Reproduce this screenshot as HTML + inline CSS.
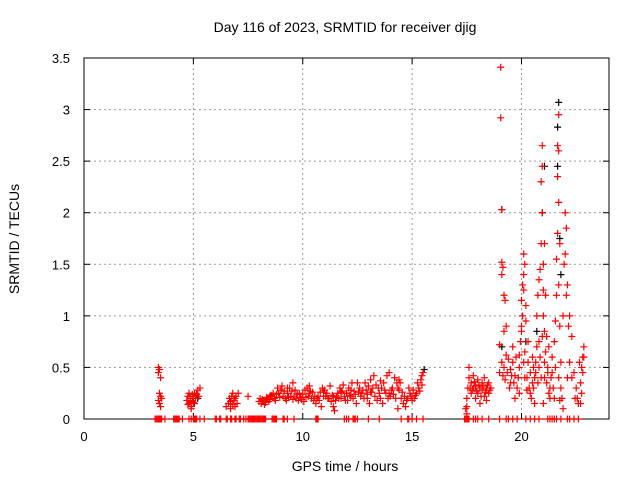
<!DOCTYPE html>
<html><head><meta charset="utf-8"><style>
body{margin:0;background:#fff}
svg{display:block;font-family:"Liberation Sans",sans-serif}
</style></head><body>
<svg id="chart" width="640" height="480">
<rect width="640" height="480" fill="#fff"/>
<text x="345" y="32" font-size="14" text-anchor="middle">Day 116 of 2023, SRMTID for receiver djig</text>
<g id="grid"></g>
<g id="axes"></g>
<g id="zeros"></g>
<g id="black"></g>
<g id="red"></g>
<text x="345" y="471" font-size="14" text-anchor="middle">GPS time / hours</text>
<text transform="translate(19,239) rotate(-90)" font-size="14" text-anchor="middle">SRMTID / TECUs</text>
</svg>
<script>
const xTicks=[0,5,10,15,20];
const yTicks=[0,0.5,1,1.5,2,2.5,3,3.5];
const yTickLabels=["0","0.5","1","1.5","2","2.5","3","3.5"];
const zeroTimes=[3.25,3.3,3.35,3.4,3.45,3.5,3.55,3.7,4.1,4.15,4.2,4.25,4.3,4.35,4.5,4.8,4.9,5.0,5.05,5.1,5.15,5.3,5.5,6.0,6.05,6.2,6.25,6.5,6.55,6.7,6.75,6.9,6.95,7.1,7.15,7.3,7.4,7.5,7.55,7.6,7.65,7.7,7.75,7.8,7.85,7.9,7.95,8.0,8.05,8.1,8.15,8.2,8.25,8.3,8.6,8.65,8.7,8.75,8.8,9.1,9.15,9.3,9.6,10.6,10.65,10.7,11.9,12.0,12.1,12.3,12.35,12.4,12.5,13.0,13.5,14.5,14.8,14.85,15.0,15.2,15.5,17.4,17.45,17.5,17.55,17.6,17.8,17.9,18.0,18.2,18.5,19.0,19.3,19.4,19.6,19.8,20.2,20.4,20.6,20.8,21.2,21.3,21.4,21.5,21.6,21.8,22.1,22.2,22.4,22.6];
const redEarly=[[3.4,0.5],[3.45,0.48],[3.4,0.45],[3.5,0.4],[3.45,0.25],[3.5,0.22],[3.4,0.18],[3.45,0.15],[3.5,0.12],[3.55,0.2],
[4.7,0.18],[4.75,0.22],[4.8,0.15],[4.85,0.2],[4.9,0.12],[4.95,0.18],[5.0,0.22],[5.0,0.16],[5.05,0.25],[5.1,0.2],[5.2,0.28],[5.25,0.22],[5.3,0.3],[4.8,0.25],[4.9,0.1],[4.75,0.14],[4.85,0.17],[4.95,0.24],[5.05,0.15],[5.15,0.24],
[6.5,0.12],[6.6,0.15],[6.65,0.2],[6.7,0.17],[6.75,0.22],[6.8,0.25],[6.85,0.18],[6.9,0.12],[6.95,0.22],[7.0,0.15],[7.05,0.25],[6.7,0.1],[6.8,0.14],[6.9,0.2],[7.5,0.22]];
const redBand=[[8.0,0.17],[8.1,0.15],[8.2,0.18],[8.3,0.16],[8.4,0.2],[8.5,0.19],[8.6,0.22],[8.7,0.2],[8.8,0.24],[8.9,0.25],[9.0,0.28],[9.1,0.22],[9.2,0.2],[9.3,0.25],[9.4,0.3],[9.5,0.27],[9.6,0.22],[9.7,0.2],[9.8,0.18],[9.9,0.21],[10.0,0.24],[10.1,0.28],[10.2,0.3],[10.3,0.25],[10.4,0.2],[10.5,0.18],[10.6,0.15],[10.7,0.22],[10.8,0.26],[10.9,0.3],[11.0,0.28],[11.1,0.25],[11.2,0.2],[11.3,0.17],[11.4,0.12],[11.5,0.18],[11.6,0.25],[11.7,0.3],[11.8,0.27],[11.9,0.22],[12.0,0.25],[12.1,0.3],[12.2,0.28],[12.3,0.2],[12.4,0.24],[12.5,0.35],[12.6,0.3],[12.7,0.25],[12.8,0.2],[12.9,0.28],[13.0,0.32],[13.1,0.38],[13.2,0.3],[13.3,0.22],[13.4,0.18],[13.5,0.25],[13.6,0.3],[13.7,0.35],[13.8,0.25],[13.9,0.2],[14.0,0.22],[14.1,0.3],[14.2,0.4],[14.3,0.35],[14.4,0.28],[14.5,0.2],[14.6,0.15],[14.7,0.12],[14.8,0.2],[14.9,0.25],[15.0,0.18],[15.1,0.2],[15.2,0.25],[15.3,0.3],[15.4,0.38],[15.5,0.45],
[8.05,0.2],[8.25,0.14],[8.45,0.17],[8.65,0.25],[8.85,0.3],[9.05,0.32],[9.25,0.18],[9.45,0.22],[9.65,0.28],[9.85,0.25],[10.05,0.17],[10.25,0.22],[10.45,0.26],[10.65,0.2],[10.85,0.12],[11.05,0.22],[11.25,0.32],[11.45,0.08],[11.65,0.2],[11.85,0.33],[12.05,0.18],[12.25,0.35],[12.45,0.15],[12.65,0.22],[12.85,0.35],[13.05,0.15],[13.25,0.42],[13.45,0.3],[13.65,0.15],[13.85,0.42],[14.05,0.28],[14.25,0.2],[14.45,0.35],[14.65,0.22],[14.85,0.3],[15.05,0.28],[15.25,0.35],[15.45,0.42],[13.95,0.45],[11.75,0.2],[10.95,0.22],[9.55,0.35],[12.95,0.2],[14.35,0.1]];
const redBand2=[[8.15,0.19],[8.35,0.21],[8.55,0.23],[8.75,0.18],[8.95,0.21],[9.15,0.27],[9.35,0.21],[9.55,0.19],[9.75,0.24],[9.95,0.19],[10.15,0.21],[10.35,0.27],[10.55,0.22],[10.75,0.18],[10.95,0.26],[11.15,0.2],[11.35,0.23],[11.55,0.21],[11.75,0.26],[11.95,0.18],[12.15,0.23],[12.35,0.27],[12.55,0.26],[12.75,0.28],[12.95,0.24],[13.15,0.26],[13.35,0.33],[13.55,0.2],[13.75,0.28],[13.95,0.25],[14.15,0.24],[14.35,0.3],[14.55,0.26],[14.75,0.18],[14.95,0.22],[15.15,0.23],[15.35,0.27],[15.45,0.33],[13.1,0.26],[12.2,0.22],[11.4,0.22],[10.3,0.32],[9.3,0.3],[14.4,0.38],[13.55,0.37]];
const redMorn=[[17.5,0.2],[17.55,0.3],[17.6,0.4],[17.6,0.5],[17.7,0.35],[17.7,0.25],[17.8,0.3],[17.8,0.42],[17.9,0.2],[17.9,0.32],[18.0,0.38],[18.0,0.25],[18.1,0.3],[18.1,0.15],[18.2,0.35],[18.2,0.28],[18.3,0.22],[18.3,0.4],[18.4,0.3],[18.4,0.18],[18.5,0.35],[18.5,0.25],[18.6,0.3],[17.5,0.12],[17.45,0.1],[17.5,0.05],[17.65,0.3],[17.75,0.28],[17.85,0.36],[17.95,0.27],[18.05,0.33],[18.15,0.22],[18.25,0.32],[18.35,0.26],[18.45,0.33],[18.55,0.28]];
const redLate=[[19.05,3.41],[19.05,2.92],[19.1,2.03],[19.1,1.52],[19.15,1.47],[19.1,1.4],[19.2,1.2],[19.25,1.15],[19.0,0.72],[19.3,0.9],[19.2,0.85],[19.1,0.55],[19.0,0.45],[19.2,0.5],[19.3,0.62],[19.4,0.58],[19.5,0.48],[19.6,0.55],[19.7,0.42],[19.5,0.35],[19.8,0.3],[19.9,0.25],[19.7,0.2],[19.9,0.5],[19.9,0.62],[19.95,0.75],[20.0,0.85],[20.05,1.0],[20.1,1.25],[20.05,1.3],[20.15,1.5],[20.1,1.6],[20.2,1.1],[20.2,0.95],[20.15,0.65],[20.3,0.55],[20.4,0.45],[20.5,0.6],[20.6,0.4],[20.7,0.7],[20.8,0.75],[20.7,1.0],[20.75,1.2],[20.8,1.35],[20.85,1.45],[20.9,1.7],[20.95,2.0],[20.9,2.3],[20.95,2.45],[20.95,2.65],[21.0,1.5],[21.1,1.2],[21.0,1.0],[21.05,0.85],[21.1,0.65],[21.2,0.5],[21.15,0.35],[21.3,0.3],[21.3,0.2],[21.2,0.45],[21.4,0.6],[21.5,0.75],[21.55,0.95],[21.6,1.2],[21.6,1.55],[21.65,1.8],[21.7,2.1],[21.65,2.35],[21.7,2.6],[21.65,2.65],[21.7,2.95],[21.75,1.7],[21.7,1.3],[21.75,0.9],[21.8,0.55],[21.9,1.0],[21.95,1.5],[22.0,2.0],[22.05,1.85],[22.0,1.6],[22.1,1.3],[22.2,1.0],[22.3,0.8],[22.2,0.55],[22.4,0.45],[22.1,0.4],[21.85,0.2],[21.9,0.1],[21.75,0.18],[22.5,0.3],[22.55,0.2],[22.6,0.15],[22.7,0.35],[22.75,0.5],[22.8,0.6],[22.85,0.7],[22.8,0.45],[22.75,0.25],[20.5,0.35],[20.45,0.2],[20.6,0.15],[20.0,0.9],[20.25,0.4],[20.35,0.3],[21.0,0.15],[21.45,0.3],[20.3,0.75],[20.55,0.5],[20.65,0.55],[20.85,0.6],[21.25,0.7],[21.35,0.4],[21.05,0.55],[19.6,0.7],[19.75,0.6],
[19.15,0.42],[19.25,0.38],[19.35,0.45],[19.45,0.3],[19.55,0.42],[19.65,0.35],[19.85,0.4],[20.1,0.55],[20.15,0.4],[20.25,0.28],[20.4,0.25],[20.55,0.3],[20.65,0.45],[20.75,0.35],[20.8,0.5],[20.9,0.4],[20.95,0.8],[21.05,0.4],[21.15,0.8],[21.25,0.25],[21.4,0.45],[21.5,0.2],[21.55,0.5],[21.7,0.4],[21.8,0.3],[22.3,0.4],[22.45,0.2],[22.65,0.55],[22.7,0.15],[22.85,0.6],[20.1,1.4],[20.0,1.15],[21.05,1.7],[21.0,1.25],[22.05,1.2],[22.15,0.9]];
const blackPts=[[19.1,2.03],[21.7,3.07],[21.65,2.83],[21.65,2.45],[21.05,2.45],[20.95,2.0],[21.75,1.75],[20.7,0.85],[20.2,0.75],[15.55,0.48],[5.2,0.2],[8.5,0.22],[12,0.25],[19.1,0.7],[21.8,1.4]];

const L=84,R=609,T=58,B=419;
const xs=t=>L+(t/24)*(R-L);
const ys=v=>B-(v/3.5)*(B-T);
const NS="http://www.w3.org/2000/svg";
function mk(tag,attrs,parent){const e=document.createElementNS(NS,tag);for(const k in attrs)e.setAttribute(k,attrs[k]);parent.appendChild(e);return e;}
const grid=document.getElementById('grid'),axes=document.getElementById('axes');
xTicks.forEach((t,i)=>{const x=xs(t);
 if(t>0){const g=mk('line',{x1:x,x2:x,y1:T,y2:B,stroke:'#999','stroke-dasharray':'2,3'},grid);
 
 }
 mk('line',{x1:x,x2:x,y1:B,y2:B-6,stroke:'#000'},axes);mk('line',{x1:x,x2:x,y1:T,y2:T+6,stroke:'#000'},axes);
 const tx=mk('text',{x:x,y:B+22,'font-size':13,'text-anchor':'middle'},axes);tx.textContent=String(t);
 
 });
yTicks.forEach((v,i)=>{const y=ys(v);
 if(v>0&&v<3.5){const g=mk('line',{x1:L,x2:R,y1:y,y2:y,stroke:'#999','stroke-dasharray':'2,3'},grid);
 
 }
 mk('line',{x1:L,x2:L+6,y1:y,y2:y,stroke:'#000'},axes);mk('line',{x1:R,x2:R-6,y1:y,y2:y,stroke:'#000'},axes);
 const tx=mk('text',{x:L-14,y:y+5,'font-size':13,'text-anchor':'end'},axes);tx.textContent=yTickLabels[i];
 
 });
const frame=mk('rect',{x:L,y:T,width:R-L,height:B-T,fill:'none',stroke:'#000'},axes);


function plus(g,t,v,col){const x=xs(t),y=ys(v);
 const p=mk('path',{d:`M${x-3.5},${y}h7M${x},${y-3.5}v7`,stroke:col,'stroke-width':1.2},g);
 
 }
const zg=document.getElementById('zeros'),bg=document.getElementById('black'),rg=document.getElementById('red');
zeroTimes.forEach(t=>plus(zg,t,0,'#f00'));
blackPts.forEach(p=>plus(bg,p[0],p[1],'#000'));
[redEarly,redBand,redBand2,redMorn,redLate].forEach(a=>a.forEach(p=>plus(rg,p[0],p[1],'#f00')));
</script>
</body></html>
